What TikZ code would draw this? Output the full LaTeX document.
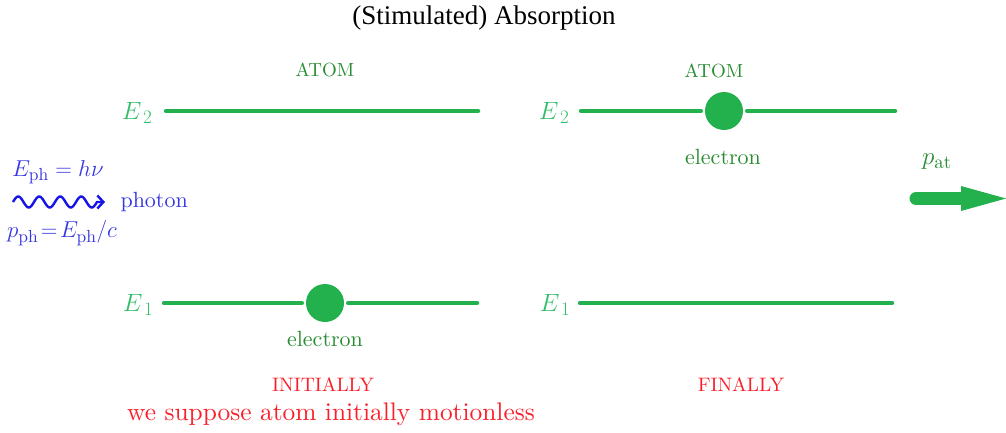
\RequirePackage{fix-cm}
\documentclass[tikz,border=0pt]{standalone}
\usepackage{fontspec}
\setmainfont{lmroman10-regular}[Extension=.otf,ItalicFont=lmroman10-italic,BoldFont=lmroman10-bold]
\newfontfamily\titlefont{Liberation Serif}
\usetikzlibrary{arrows.meta}
\DeclareMathSizes{25}{25}{19}{15}
\DeclareMathSizes{23}{23}{17.5}{14}
\definecolor{lvl}{RGB}{34,177,76}
\definecolor{atomtxt}{RGB}{40,140,50}
\definecolor{elab}{RGB}{50,190,105}
\definecolor{redtxt}{RGB}{250,30,40}
\definecolor{bluetxt}{RGB}{55,55,225}
\definecolor{wave}{RGB}{20,20,230}
\begin{document}
\begin{tikzpicture}[x=1pt,y=-1pt,
  level/.style={draw=lvl,line width=4.5pt,line cap=round},
  elec/.style={circle,fill=lvl,minimum size=38pt,inner sep=0pt},
  atomlbl/.style={text=atomtxt,font=\fontsize{19}{22}\selectfont},
  eleclbl/.style={text=atomtxt,font=\fontsize{22}{24}\selectfont},
  elbl/.style={text=elab,font=\fontsize{25}{28}\selectfont},
  redlbl/.style={text=redtxt,font=\fontsize{19.5}{23}\selectfont},
  bluelbl/.style={text=bluetxt,font=\fontsize{22}{24}\selectfont},
  bluemath/.style={text=bluetxt,font=\fontsize{23}{26}\selectfont}]
\useasboundingbox (0,0) rectangle (1006,433);
% title
\node[font=\titlefont\fontsize{27}{30}\selectfont] (title) at (484,18) {(Stimulated) Absorption};
% left atom
\node[atomlbl] (atomL) at (325,70) {ATOM};
\node[elbl] (E2L) at (137,113) {$E_{\,2}$};
\node[elbl] (E1L) at (138,305) {$E_{\,1}$};
\coordinate (l2a) at (166,111);
\coordinate (l2b) at (478,111);
\draw[level] (l2a) -- (l2b);
\node[elec] (eL) at (325,303) {};
\coordinate (l1a) at (164,303);
\coordinate (l1b) at (477,303);
\draw[level] (l1a) -- ([xshift=-4pt]eL.west);
\draw[level] ([xshift=4pt]eL.east) -- (l1b);
\node[eleclbl] (elecL) at (325,339) {electron};
\node[redlbl] (init) at (323,385) {INITIALLY};
\node[text=redtxt,font=\fontsize{25.4}{28}\selectfont] (supp) at (331,414) {we suppose atom initially motionless};
% right atom
\node[atomlbl] (atomR) at (714,71) {ATOM};
\node[elbl] (E2R) at (554,113) {$E_{\,2}$};
\node[elbl] (E1R) at (555,305) {$E_{\,1}$};
\node[elec] (eR) at (724,111) {};
\coordinate (r2a) at (581,111);
\coordinate (r2b) at (895,111);
\draw[level] (r2a) -- ([xshift=-4pt]eR.west);
\draw[level] ([xshift=4pt]eR.east) -- (r2b);
\coordinate (r1a) at (580,303);
\coordinate (r1b) at (892,303);
\draw[level] (r1a) -- (r1b);
\node[eleclbl] (elecR) at (723,157) {electron};
\node[redlbl] (fin) at (741,385) {FINALLY};
% photon
\node[bluemath] (Eph) at (58,172) {$E_{\mathrm{ph}} = h\nu$};
\coordinate (w1) at (105,202);
\draw[wave,line width=2.4pt,-{Straight Barb[length=6pt,width=13pt,line width=2.4pt]}]
  plot[domain=13:97,samples=120,smooth] (\x,{202-5.5*sin((\x-13)*17.142857)}) -- (w1);
\node[bluelbl,anchor=west] (phot) at (117,202) {photon};
\node[bluemath] (pph) at (62,233) {$p_{\mathrm{ph}}\!=\!E_{\mathrm{ph}}/c$};
% atom momentum
\node[text=atomtxt,font=\fontsize{25}{28}\selectfont] (pat) at (937,162) {$p_{\mathrm{at}}$};
\coordinate (a0) at (916,198.5);
\coordinate (a1) at (961,198.5);
\coordinate (atip) at (1006,198.5);
\draw[lvl,line width=13pt,line cap=round] (a0) -- (a1);
\fill[lvl] ([yshift=-12.5pt]a1) -- (atip) -- ([yshift=12.5pt]a1) -- cycle;
\end{tikzpicture}
\end{document}
